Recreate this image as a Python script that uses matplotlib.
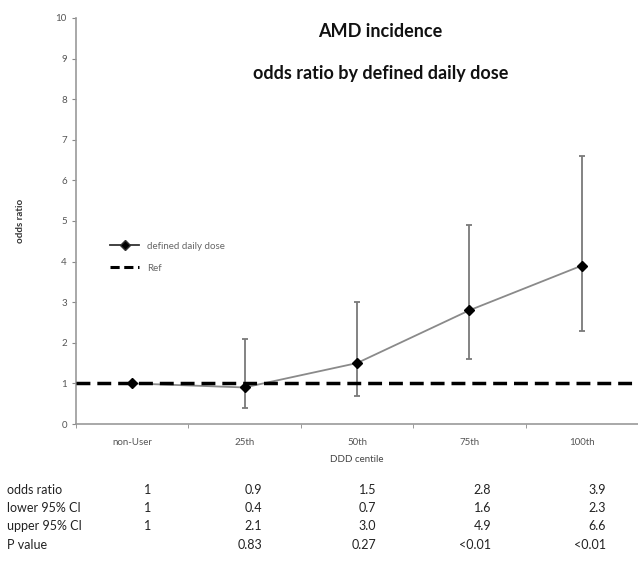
import matplotlib.pyplot as plt
from matplotlib.lines import Line2D

plt.rcParams['font.family'] = ['Lato', 'DejaVu Sans']

# chart data
categories = ['non-User', '25th', '50th', '75th', '100th']
odds_ratio = [1, 0.9, 1.5, 2.8, 3.9]
lower_ci = [1, 0.4, 0.7, 1.6, 2.3]
upper_ci = [1, 2.1, 3.0, 4.9, 6.6]
p_values = ['', '0.83', '0.27', '<0.01', '<0.01']
ref_value = 1

x = list(range(len(categories)))
err_low = [o - l for o, l in zip(odds_ratio, lower_ci)]
err_high = [u - o for o, u in zip(odds_ratio, upper_ci)]

fig = plt.figure(figsize=(6.38, 5.68), dpi=100)
ax = fig.add_axes([0.119, 0.2535, 0.881, 0.715])

ax.errorbar(x, odds_ratio, yerr=[err_low, err_high], fmt='none',
            ecolor='#7a7a7a', elinewidth=1.3, capsize=2.5, capthick=1.3, zorder=2)
ax.plot(x, odds_ratio, color='#8a8a8a', linewidth=1.3, zorder=3)
ax.plot(x, odds_ratio, linestyle='none', marker='D', markersize=5.5,
        markerfacecolor='black', markeredgecolor='black', zorder=4)
ax.axhline(ref_value, color='black', linestyle=(0, (4, 2)), linewidth=2.5, zorder=5)

ax.set_xlim(-0.5, 4.5)
ax.set_ylim(0, 10)
ax.set_yticks(range(0, 11))
ax.set_xticks(x)
ax.set_xticklabels(categories)
ax.set_xticks([i - 0.5 for i in range(len(categories) + 1)], minor=True)
ax.tick_params(axis='x', which='major', length=0, pad=10, labelsize=7, labelcolor='#555555')
ax.tick_params(axis='x', which='minor', length=3, color='#888888')
ax.tick_params(axis='y', length=3, color='#888888', labelsize=7, labelcolor='#555555')

for side in ['top', 'right']:
    ax.spines[side].set_visible(False)
for side in ['left', 'bottom']:
    ax.spines[side].set_color('#999999')
    ax.spines[side].set_linewidth(1.2)

ax.set_xlabel('DDD centile', fontsize=7, color='#444444', labelpad=6)
ax.set_ylabel('odds ratio', fontsize=7, color='#333333', fontweight='bold', labelpad=22)

# legend with marker on line
handles = [Line2D([], [], color='#333333', linewidth=1.3, marker='D', markersize=5,
                  markerfacecolor='black'),
           Line2D([], [], color='black', linestyle=(0, (3, 1.5)), linewidth=2.2)]
leg = ax.legend(handles, ['defined daily dose', 'Ref'], loc='upper left',
                bbox_to_anchor=(0.045, 0.47), frameon=False, fontsize=7,
                handlelength=3, labelspacing=1.3)
for t in leg.get_texts():
    t.set_color('#666666')

fig.text(0.596, 0.944, 'AMD incidence', ha='center', va='center',
         fontsize=13, fontweight='bold', color='#111111')
fig.text(0.596, 0.871, 'odds ratio by defined daily dose', ha='center', va='center',
         fontsize=13, fontweight='bold', color='#111111')

# data table under chart
row_labels = ['odds ratio', 'lower 95% CI', 'upper 95% CI', 'P value']
rows = [[str(v) for v in odds_ratio],
        [str(v) for v in lower_ci],
        ['%.1f' % v if i > 0 else '1' for i, v in enumerate(upper_ci)],
        p_values]
row_y = [490, 508, 526, 545]
col_x = [148, 262, 376, 491, 606]
for r, label in enumerate(row_labels):
    yy = 1 - row_y[r] / 568
    fig.text(7 / 638, yy, label, ha='left', va='center', fontsize=9, color='#222222')
    for c, val in enumerate(rows[r]):
        align = 'center' if c == 0 else 'right'
        fig.text(col_x[c] / 638, yy, val, ha=align, va='center', fontsize=9, color='#222222')

fig.savefig('out.png', dpi=100)
